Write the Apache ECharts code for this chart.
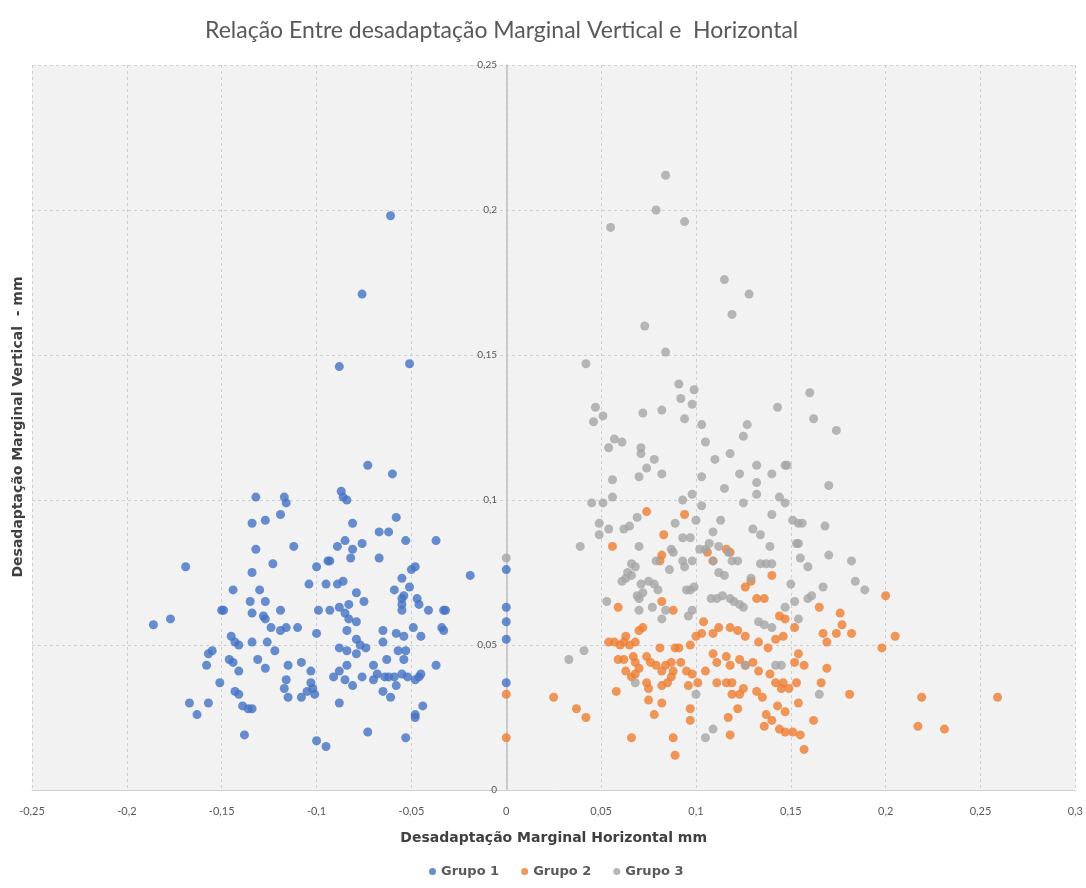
<!DOCTYPE html>
<html>
<head>
<meta charset="utf-8">
<script src="https://cdn.jsdelivr.net/npm/echarts@6/dist/echarts.min.js"></script>
<style>
  html, body { margin: 0; padding: 0; background: #fff; }
  #main { width: 1086px; height: 888px; }
</style>
</head>
<body>
<div id="main"></div>
<script>
// dados: [horizontal, vertical] em mm
var grupo1 = [
  [-0.169,0.077],[-0.144,0.069],[-0.135,0.065],[-0.149,0.062],[-0.150,0.062],
  [-0.177,0.059],[-0.186,0.057],[-0.145,0.053],[-0.143,0.051],[-0.141,0.050],
  [-0.155,0.048],[-0.157,0.047],[-0.158,0.043],[-0.146,0.045],[-0.144,0.044],
  [-0.141,0.041],[-0.151,0.037],[-0.143,0.034],[-0.141,0.033],[-0.167,0.030],
  [-0.157,0.030],[-0.163,0.026],[-0.139,0.029],[-0.136,0.028],[-0.138,0.019],
  [-0.134,0.092],[-0.132,0.101],[-0.134,0.075],
  [-0.117,0.101],[-0.116,0.099],[-0.119,0.095],[-0.127,0.093],
  [-0.087,0.103],[-0.086,0.101],[-0.084,0.100],[-0.073,0.112],[-0.060,0.109],
  [-0.058,0.094],[-0.081,0.092],[-0.067,0.089],[-0.062,0.089],[-0.053,0.086],
  [-0.037,0.086],[-0.085,0.086],[-0.089,0.084],[-0.081,0.083],[-0.076,0.085],
  [-0.112,0.084],[-0.132,0.083],[-0.067,0.080],[-0.082,0.080],[-0.093,0.079],
  [-0.094,0.079],[-0.123,0.078],[-0.100,0.077],[-0.104,0.071],[-0.095,0.071],
  [-0.089,0.071],[-0.086,0.072],[-0.048,0.077],[-0.050,0.076],[-0.055,0.073],
  [-0.051,0.070],[-0.059,0.069],[-0.019,0.074],[-0.130,0.069],[-0.079,0.068],
  [-0.054,0.067],[-0.055,0.066],[-0.055,0.064],[-0.047,0.066],[-0.046,0.064],
  [-0.075,0.065],[-0.127,0.065],[-0.083,0.064],[-0.119,0.062],[-0.099,0.062],
  [-0.093,0.062],[-0.088,0.063],[-0.085,0.061],[-0.083,0.059],[-0.079,0.058],
  [-0.041,0.062],[-0.055,0.062],[-0.033,0.062],[-0.032,0.062],[-0.134,0.061],
  [-0.128,0.060],[-0.127,0.059],[-0.034,0.056],[-0.033,0.055],[-0.124,0.056],
  [-0.119,0.055],[-0.116,0.056],[-0.110,0.056],[-0.065,0.055],[-0.084,0.055],
  [-0.058,0.054],[-0.054,0.053],[-0.049,0.056],[-0.045,0.053],[-0.100,0.054],
  [-0.134,0.051],[-0.126,0.051],[-0.122,0.048],[-0.065,0.051],[-0.079,0.052],
  [-0.077,0.050],[-0.074,0.049],[-0.088,0.049],[-0.084,0.048],[-0.079,0.047],
  [-0.057,0.048],[-0.053,0.048],[-0.054,0.045],[-0.063,0.045],[-0.131,0.045],
  [-0.127,0.042],[-0.115,0.043],[-0.108,0.044],[-0.084,0.043],[-0.070,0.043],
  [-0.037,0.043],[-0.103,0.041],[-0.088,0.041],[-0.091,0.039],[-0.068,0.040],
  [-0.064,0.039],[-0.062,0.039],[-0.059,0.039],[-0.055,0.040],[-0.052,0.039],
  [-0.048,0.038],[-0.046,0.039],[-0.045,0.040],[-0.076,0.039],[-0.070,0.038],
  [-0.085,0.038],[-0.116,0.038],[-0.117,0.035],[-0.115,0.032],[-0.103,0.037],
  [-0.102,0.035],[-0.105,0.034],[-0.101,0.033],[-0.108,0.032],[-0.081,0.036],
  [-0.058,0.036],[-0.065,0.034],[-0.061,0.032],[-0.088,0.030],[-0.044,0.029],
  [-0.048,0.026],[-0.048,0.025],[-0.134,0.028],[-0.073,0.020],[-0.053,0.018],
  [-0.100,0.017],[-0.095,0.015],
  [-0.061,0.198],[-0.076,0.171],[-0.088,0.146],[-0.051,0.147],
  [0,0.076],[0,0.063],[0,0.058],[0,0.052],[0,0.037]
];

var grupo2 = [
  [0.074,0.096],[0.094,0.095],[0.056,0.084],[0.083,0.088],[0.082,0.081],[0.081,0.079],
  [0.116,0.083],[0.118,0.082],[0.106,0.082],[0.109,0.079],[0.140,0.074],[0.126,0.070],
  [0.129,0.072],[0.132,0.066],[0.136,0.066],[0.144,0.060],[0.147,0.059],[0.059,0.063],
  [0.082,0.065],[0.088,0.062],[0.072,0.056],[0.070,0.055],[0.063,0.053],[0.054,0.051],
  [0.057,0.051],[0.060,0.050],[0.062,0.051],[0.065,0.050],[0.068,0.051],[0.081,0.049],
  [0.089,0.049],[0.091,0.049],[0.097,0.050],[0.100,0.053],[0.103,0.054],[0.104,0.058],
  [0.109,0.054],[0.112,0.056],[0.118,0.056],[0.122,0.055],[0.126,0.053],[0.133,0.051],
  [0.138,0.049],[0.142,0.052],[0.146,0.053],[0.152,0.056],[0.059,0.045],[0.062,0.045],
  [0.067,0.046],[0.068,0.044],[0.070,0.042],[0.068,0.040],[0.074,0.046],[0.076,0.044],
  [0.079,0.043],[0.082,0.041],[0.084,0.043],[0.087,0.044],[0.088,0.041],[0.092,0.044],
  [0.095,0.041],[0.098,0.040],[0.105,0.041],[0.109,0.047],[0.111,0.044],[0.116,0.046],
  [0.118,0.043],[0.123,0.045],[0.126,0.043],[0.130,0.044],[0.133,0.041],[0.111,0.037],
  [0.116,0.037],[0.119,0.037],[0.119,0.033],[0.123,0.033],[0.125,0.035],[0.132,0.034],
  [0.135,0.032],[0.139,0.040],[0.142,0.037],[0.146,0.037],[0.149,0.035],[0.153,0.037],
  [0.147,0.027],[0.143,0.029],[0.137,0.026],[0.140,0.024],[0.144,0.021],[0.147,0.020],
  [0.151,0.020],[0.136,0.022],[0.063,0.041],[0.066,0.039],[0.074,0.037],[0.075,0.035],
  [0.075,0.031],[0.082,0.036],[0.085,0.037],[0.087,0.039],[0.078,0.026],[0.082,0.030],
  [0.097,0.028],[0.097,0.024],[0.096,0.036],[0.101,0.037],[0.058,0.034],[0.025,0.032],
  [0.037,0.028],[0.042,0.025],[0.066,0.018],[0.088,0.018],[0.089,0.012],[0.117,0.025],
  [0.122,0.028],[0.118,0.019],[0,0.033],[0,0.018],
  [0.200,0.067],[0.165,0.063],[0.176,0.061],[0.177,0.057],[0.167,0.054],[0.169,0.051],
  [0.174,0.054],[0.182,0.054],[0.205,0.053],[0.198,0.049],[0.154,0.047],[0.152,0.044],
  [0.157,0.043],[0.169,0.042],[0.166,0.037],[0.145,0.035],[0.154,0.030],[0.181,0.033],
  [0.219,0.032],[0.259,0.032],[0.217,0.022],[0.231,0.021],[0.162,0.024],[0.155,0.019],
  [0.157,0.014]
];

var grupo3 = [
  [0.084,0.212],[0.079,0.200],[0.094,0.196],[0.055,0.194],[0.115,0.176],[0.128,0.171],
  [0.119,0.164],[0.073,0.160],[0.084,0.151],[0.042,0.147],[0.091,0.140],[0.099,0.138],
  [0.092,0.135],[0.160,0.137],[0.098,0.133],[0.143,0.132],[0.047,0.132],[0.051,0.129],
  [0.046,0.127],[0.072,0.130],[0.082,0.131],[0.094,0.128],[0.103,0.126],[0.127,0.126],
  [0.105,0.120],[0.125,0.122],[0.057,0.121],[0.061,0.120],[0.054,0.118],[0.071,0.118],
  [0.071,0.116],[0.078,0.114],[0.074,0.111],[0.070,0.108],[0.082,0.109],[0.110,0.114],
  [0.118,0.116],[0.132,0.112],[0.147,0.112],[0.148,0.112],[0.140,0.109],[0.123,0.109],
  [0.103,0.108],[0.056,0.107],[0.115,0.104],[0.132,0.106],[0.132,0.102],[0.056,0.101],
  [0.045,0.099],[0.051,0.099],[0.093,0.100],[0.098,0.102],[0.103,0.098],[0.125,0.099],
  [0.144,0.101],[0.147,0.099],[0.140,0.095],[0.049,0.092],[0.049,0.088],[0.054,0.090],
  [0.062,0.090],[0.065,0.091],[0.069,0.094],[0.089,0.092],[0.100,0.093],[0.113,0.093],
  [0.130,0.090],[0.134,0.088],[0.093,0.087],[0.097,0.087],[0.109,0.089],[0.107,0.085],
  [0.088,0.082],[0.087,0.083],[0.039,0.084],[0.070,0.084],[0.102,0.083],[0.105,0.083],
  [0.139,0.084],[0.112,0.084],[0.117,0.082],[0.119,0.079],[0.122,0.079],[0.134,0.078],
  [0.137,0.078],[0.140,0.078],[0.093,0.079],[0.094,0.077],[0.098,0.079],[0.066,0.078],
  [0.068,0.077],[0.064,0.075],[0.086,0.076],[0.079,0.079],[0.109,0.079],[0.112,0.075],
  [0.115,0.074],[0.061,0.072],[0.063,0.073],[0.066,0.074],[0.075,0.072],[0.078,0.071],
  [0.080,0.069],[0.071,0.071],[0.099,0.070],[0.097,0.069],[0.150,0.071],[0.129,0.073],
  [0.072,0.068],[0.069,0.067],[0.070,0.066],[0.095,0.069],[0.108,0.066],[0.111,0.066],
  [0.114,0.067],[0.118,0.066],[0.120,0.065],[0.123,0.064],[0.125,0.063],[0.053,0.065],
  [0.077,0.063],[0.070,0.062],[0.082,0.059],[0.084,0.062],[0.098,0.062],[0.096,0.060],
  [0.147,0.063],[0.152,0.065],[0.133,0.058],[0.136,0.057],[0.140,0.056],[0.154,0.059],
  [0.033,0.045],[0.041,0.048],[0.100,0.033],[0.105,0.018],[0.109,0.021],[0.142,0.043],
  [0.145,0.043],[0.126,0.043],[0.068,0.037],[0,0.080],
  [0.162,0.128],[0.174,0.124],[0.170,0.105],[0.151,0.093],[0.154,0.092],[0.156,0.092],
  [0.168,0.091],[0.153,0.085],[0.154,0.085],[0.155,0.080],[0.159,0.077],[0.170,0.081],
  [0.182,0.079],[0.167,0.070],[0.184,0.072],[0.189,0.069],[0.159,0.066],[0.161,0.067],
  [0.165,0.033]
];

var nomesGrupos = ['Grupo 1', 'Grupo 2', 'Grupo 3'];
var cores = ['#4472C4', '#ED7D31', '#A5A5A5'];

var myChart = echarts.init(document.getElementById('main'));

function virgula(v) {
  return String(Number(v.toFixed(2))).replace('.', ',');
}

var fonte = 'Lato, "Open Sans", sans-serif';
var fonteLarga = '"DejaVu Sans", Verdana, sans-serif';

var option = {
  color: cores,
  textStyle: { fontFamily: fonte },
  title: {
    text: 'Relação Entre desadaptação Marginal Vertical e  Horizontal',
    left: 200,
    top: 14,
    textStyle: { fontFamily: fonte, fontSize: 23, fontWeight: 'normal', color: '#595959' }
  },
  legend: {
    data: nomesGrupos,
    left: 424,
    top: 860,
    icon: 'circle',
    itemWidth: 7,
    itemHeight: 7,
    itemGap: 22,
    textStyle: { fontFamily: fonteLarga, fontSize: 13, fontWeight: 'bold', color: '#595959' }
  },
  grid: {
    left: 32,
    right: 9,
    top: 65,
    bottom: 98,
    show: true,
    backgroundColor: '#f2f2f2',
    borderWidth: 0
  },
  xAxis: {
    type: 'value',
    min: -0.25,
    max: 0.3,
    interval: 0.05,
    name: 'Desadaptação Marginal Horizontal mm',
    nameLocation: 'middle',
    nameGap: 41,
    nameTextStyle: { fontFamily: fonteLarga, fontSize: 14, fontWeight: 'bold', color: '#404040' },
    axisLine: { lineStyle: { color: '#d0d0d0', width: 1 } },
    axisTick: { show: false },
    axisLabel: { formatter: virgula, fontSize: 11, color: '#595959', margin: 16 },
    splitLine: { show: true, lineStyle: { color: '#d0d0d0', type: [3, 3] } }
  },
  yAxis: {
    type: 'value',
    min: 0,
    max: 0.25,
    interval: 0.05,
    offset: -475,
    axisLine: { show: true, onZero: false, lineStyle: { color: '#bfbfbf', width: 1.5 } },
    axisTick: { show: false },
    axisLabel: { formatter: virgula, fontSize: 10, color: '#595959', margin: 10 },
    splitLine: { show: true, lineStyle: { color: '#d0d0d0', type: [3, 3] } }
  },
  graphic: [{
    type: 'text',
    x: 18,
    y: 427,
    rotation: Math.PI / 2,
    style: {
      text: 'Desadaptação Marginal Vertical  - mm',
      font: 'bold 14px ' + fonteLarga,
      fill: '#404040',
      textAlign: 'center',
      textVerticalAlign: 'middle'
    }
  }],
  series: [
    { name: nomesGrupos[0], type: 'scatter', data: grupo1, symbolSize: 9 },
    { name: nomesGrupos[1], type: 'scatter', data: grupo2, symbolSize: 9 },
    { name: nomesGrupos[2], type: 'scatter', data: grupo3, symbolSize: 9 }
  ]
};

myChart.setOption(option);
</script>
</body>
</html>
